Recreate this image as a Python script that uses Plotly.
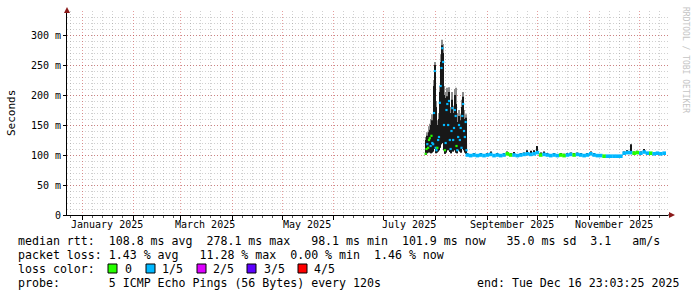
import plotly.graph_objects as go
import pandas as pd

# ---------------- data (ms) ----------------
# high-jitter period, 12 h bins starting 2025-07-26
spike_lo = [100, 102, 103, 104, 105, 104, 103, 106, 104, 106, 110, 112, 105, 103, 104, 106, 108, 112, 118, 125,
            135, 120, 108, 102, 104, 110, 115, 108, 112, 105, 103, 108, 112, 106, 108, 112, 110, 104, 103, 108,
            110, 106, 108, 104, 110, 115, 108, 104, 108, 102]
spike_hi = [108, 125, 132, 120, 138, 142, 128, 150, 158, 140, 215, 250, 180, 125, 138, 150, 160, 205, 235, 255,
            283, 270, 200, 130, 150, 195, 198, 180, 205, 160, 125, 170, 192, 150, 170, 200, 185, 140, 118, 155,
            165, 140, 158, 125, 180, 197, 160, 145, 162, 120]
spike_top = [112, 130, 138, 128, 148, 152, 135, 160, 168, 150, 225, 255, 190, 135, 148, 158, 170, 215, 245, 268,
             292, 285, 215, 140, 165, 205, 212, 195, 213, 172, 135, 180, 205, 165, 182, 210, 212, 150, 128, 170,
             175, 150, 168, 140, 192, 205, 175, 155, 168, 130]
spike_med = [102, 110, 118, 112, 125, 128, 115, 132, 120, 118, 170, 240, 112, 108, 112, 125, 130, 187, 215, 245,
             278, 255, 150, 108, 120, 175, 185, 150, 190, 125, 110, 140, 178, 125, 145, 175, 165, 115, 108, 130,
             150, 125, 145, 112, 165, 185, 140, 130, 155, 108]
spike_loss = [0, 0, 1, 0, 0, 0, 1, 0, 1, 1, 1, 1, 1, 1, 0, 1, 1, 1, 1, 1,
              1, 1, 1, 0, 1, 1, 1, 1, 1, 1, 1, 1, 1, 1, 1, 1, 1, 0, 1, 1,
              1, 1, 1, 1, 1, 1, 1, 1, 1, 1]

# stable period, 2 day bins starting 2025-08-20
flat_med = [100, 99, 100, 99, 100, 99, 100, 101, 99, 100, 99, 100, 102, 100, 100, 99, 100, 101, 102, 101,
            102, 104, 100, 101, 100, 99, 100, 99, 100, 99, 100, 101, 100, 101, 100, 99, 100, 102, 100, 99,
            99, 98, 98, 98, 98, 98, 98, 103, 104, 104, 103, 104, 103, 105, 103, 103, 102, 103, 102, 103]
flat_hi = [102, 101, 103, 101, 102, 101, 102, 106, 101, 102, 101, 103, 106, 102, 105, 101, 102, 104, 108, 107,
           108, 115, 104, 106, 103, 101, 102, 101, 103, 102, 102, 104, 103, 104, 102, 101, 102, 106, 102, 101,
           101, 100, 100, 100, 100, 100, 100, 106, 108, 118, 106, 107, 106, 110, 105, 104, 104, 104, 104, 104]
flat_loss = [1, 1, 1, 1, 1, 1, 1, 1, 1, 1, 1, 1, 0, 0, 1, 1, 1, 1, 1, 1,
             1, 1, 0, 1, 1, 1, 1, 1, 0, 0, 1, 1, 0, 1, 1, 1, 1, 1, 1, 1,
             1, 0, 1, 1, 1, 1, 1, 1, 1, 1, 0, 0, 1, 1, 1, 0, 1, 1, 1, 1]

loss_labels = ["0", "1/5", "2/5", "3/5", "4/5"]
loss_colors = ["#26ff00", "#00b8ff", "#dd00ff", "#5e00ff", "#ff0000"]

month_starts = [f"2025-{m:02d}-01" for m in range(1, 13)]
label_dates = ["2025-01-16", "2025-03-16", "2025-05-16", "2025-07-16", "2025-09-16", "2025-11-16"]
label_texts = ["January 2025", "March 2025", "May 2025", "July 2025", "September 2025", "November 2025"]
minor_days = ["2024-12-25"] + [f"2025-{m:02d}-{d:02d}" for m in range(1, 13) for d in (7, 13, 19, 25) if not (m == 12 and d > 13)]

y_ticks = [0, 0.05, 0.10, 0.15, 0.20, 0.25, 0.30]
y_ticktext = ["0", "50 m", "100 m", "150 m", "200 m", "250 m", "300 m"]

line1 = "median rtt:  108.8 ms avg  278.1 ms max   98.1 ms min  101.9 ms now   35.0 ms sd  3.1   am/s"
line2 = "packet loss: 1.43 % avg   11.28 % max  0.00 % min  1.46 % now"
line4 = "probe:       5 ICMP Echo Pings (56 Bytes) every 120s"
end_text = "end: Tue Dec 16 23:03:25 2025"

# ---------------- figure ----------------
FONT = "DejaVu Sans Mono"
W, H = 697, 297
L, R, T, B = 67, 668, 11, 215   # plot area in pixels

def px(xp):
    return (xp - L) / (R - L)

def py(yp):
    return (B - yp) / (B - T)

ms = lambda v: [x / 1000.0 for x in v]

spike_x = pd.date_range("2025-07-26", periods=len(spike_med), freq="12h")
flat_x = pd.date_range("2025-08-20", periods=len(flat_med), freq="2D")
HALF_DAY = 12 * 3600 * 1000

fig = go.Figure()
# light smoke
fig.add_trace(go.Bar(x=spike_x, base=ms(spike_lo), y=[(t - l) / 1000 for t, l in zip(spike_top, spike_lo)],
                     width=HALF_DAY * 1.3, marker=dict(color="#8c8c8c", line=dict(width=0)), hoverinfo="skip"))
# dark smoke
fig.add_trace(go.Bar(x=spike_x, base=ms(spike_lo), y=[(h - l) / 1000 for h, l in zip(spike_hi, spike_lo)],
                     width=HALF_DAY * 1.3, marker=dict(color="#181818", line=dict(width=0)), hoverinfo="skip"))
fig.add_trace(go.Bar(x=flat_x, base=ms(flat_med), y=[(h - m) / 1000 for h, m in zip(flat_hi, flat_med)],
                     width=HALF_DAY * 1.4, marker=dict(color="#181818", line=dict(width=0)), hoverinfo="skip"))
# medians coloured by loss
fig.add_trace(go.Scatter(x=spike_x, y=ms(spike_med), mode="markers",
                         marker=dict(symbol="square", size=2.2, color=[loss_colors[i] for i in spike_loss], line=dict(width=0)),
                         hoverinfo="skip"))
fig.add_trace(go.Scatter(x=flat_x, y=ms(flat_med), mode="markers",
                         marker=dict(symbol="square", size=3.6, color=[loss_colors[i] for i in flat_loss], line=dict(width=0)),
                         hoverinfo="skip"))

MGRID = "rgba(200,40,40,0.45)"
GRID = "rgba(120,120,120,0.35)"

fig.update_layout(
    width=W, height=H, margin=dict(l=L, r=W - R, t=T, b=H - B),
    paper_bgcolor="white", plot_bgcolor="white",
    barmode="overlay", showlegend=False,
    font=dict(family=FONT, size=10, color="black"),
    xaxis=dict(type="date", range=["2024-12-23 00:00", "2025-12-18 07:00"],
               tickmode="array", tickvals=month_starts, showticklabels=False,
               showgrid=True, gridcolor=MGRID, griddash="1px,2px", gridwidth=1,
               ticks="outside", ticklen=4, tickcolor="black", tickwidth=1,
               showline=True, linecolor="black", linewidth=1, zeroline=False,
               minor=dict(tickmode="array", tickvals=minor_days, showgrid=True, gridcolor=GRID,
                          griddash="1px,2px", ticks="outside", ticklen=2, tickcolor="#555")),
    yaxis=dict(range=[0, 0.34], tickmode="array", tickvals=y_ticks, ticktext=y_ticktext,
               showgrid=True, gridcolor=MGRID, griddash="1px,2px", gridwidth=1,
               ticks="outside", ticklen=3, tickcolor="black",
               showline=True, linecolor="black", linewidth=1, zeroline=False,
               tickfont=dict(family=FONT, size=10),
               minor=dict(dtick=0.01, tick0=0, showgrid=True, gridcolor=GRID, griddash="1px,2px")),
)

ann = []
for d, t in zip(label_dates, label_texts):
    ann.append(dict(x=d, xref="x", y=py(224), yref="paper", text=t, showarrow=False,
                    xanchor="center", yanchor="middle", font=dict(family=FONT, size=10)))
ann.append(dict(x=px(11), y=py(113), xref="paper", yref="paper", text="Seconds", textangle=-90,
                showarrow=False, font=dict(family=FONT, size=11), xanchor="center", yanchor="middle"))
ann.append(dict(x=px(686), y=py(60), xref="paper", yref="paper", text="RRDTOOL / TOBI OETIKER", textangle=90,
                showarrow=False, font=dict(family=FONT, size=8, color="#c4c4c4"), xanchor="center", yanchor="middle"))
LF = dict(family=FONT, size=11.6, color="black")
for txt, yy in [(line1, 241), (line2, 255), ("loss color:", 269), (line4, 283)]:
    ann.append(dict(x=px(16), y=py(yy), xref="paper", yref="paper", text=txt.replace(" ", "&nbsp;"),
                    showarrow=False, xanchor="left", yanchor="middle", font=LF))
ann.append(dict(x=px(681), y=py(283), xref="paper", yref="paper", text=end_text.replace(" ", "&nbsp;"),
                showarrow=False, xanchor="right", yanchor="middle", font=LF))

shapes = []
sq_x = [108, 146, 197, 247, 298]
lab_x = [123, 160, 211, 262, 312]
for c, lbl, sx, lx in zip(loss_colors, loss_labels, sq_x, lab_x):
    shapes.append(dict(type="rect", xref="paper", yref="paper", x0=px(sx), x1=px(sx + 9), y0=py(273), y1=py(264),
                       fillcolor=c, line=dict(color="black", width=1)))
    ann.append(dict(x=px(lx), y=py(269), xref="paper", yref="paper", text=lbl, showarrow=False,
                    xanchor="left", yanchor="middle", font=LF))

ARROW = "#8b1a1a"
# y-axis arrow
shapes.append(dict(type="path", xref="paper", yref="paper",
                   path=f"M {px(64)} {py(13)} L {px(70)} {py(13)} L {px(67)} {py(7)} Z",
                   fillcolor=ARROW, line=dict(color=ARROW, width=0)))
# x-axis extension and arrow
shapes.append(dict(type="line", xref="paper", yref="paper", x0=1, x1=px(670), y0=0, y1=0,
                   line=dict(color="black", width=1)))
shapes.append(dict(type="path", xref="paper", yref="paper",
                   path=f"M {px(669)} {py(212)} L {px(669)} {py(218)} L {px(675)} {py(215)} Z",
                   fillcolor=ARROW, line=dict(color=ARROW, width=0)))

fig.update_layout(annotations=ann, shapes=shapes)
fig.write_html("out.html")
